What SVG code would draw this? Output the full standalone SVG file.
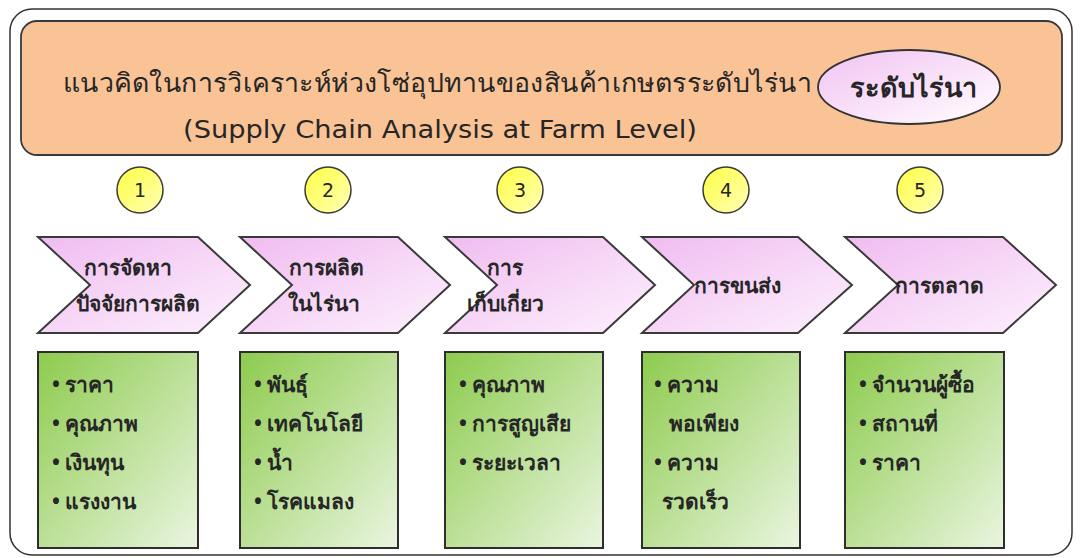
<svg xmlns="http://www.w3.org/2000/svg" width="1080" height="558" viewBox="0 0 1080 558">
<defs>
<linearGradient id="gChev" x1="0" y1="0" x2="1" y2="1">
<stop offset="0" stop-color="#F0BCF0"/>
<stop offset="1" stop-color="#FDF1FD"/>
</linearGradient>
<linearGradient id="gGreen" x1="0" y1="0" x2="1" y2="1">
<stop offset="0" stop-color="#8DCB4E"/>
<stop offset="1" stop-color="#EAF5E0"/>
</linearGradient>
<linearGradient id="gYel" x1="0" y1="0" x2="1" y2="1">
<stop offset="0" stop-color="#FFFF40"/>
<stop offset="1" stop-color="#FFFFB8"/>
</linearGradient>
<linearGradient id="gEll" x1="0" y1="0" x2="1" y2="1">
<stop offset="0" stop-color="#F2C2F2"/>
<stop offset="1" stop-color="#FFFFFF"/>
</linearGradient>
<style>
.th{font-family:"Noto Sans","DejaVu Sans",sans-serif;fill:#262626}
.chev{fill:url(#gChev);stroke:#3a3a3a;stroke-width:2}
.box{fill:url(#gGreen);stroke:#2e2e2e;stroke-width:2}
.num{fill:url(#gYel);stroke:#3a3a3a;stroke-width:1.5}
.lbl{font-size:21px;font-weight:bold;text-anchor:middle}
.item{font-size:21px;font-weight:bold}
.n{font-family:"DejaVu Sans",sans-serif;font-size:19px;fill:#262626;text-anchor:middle}
</style>
</defs>
<rect width="1080" height="558" fill="#FFFFFF"/>
<g id="frame">
<rect x="10" y="9" width="1062" height="546" rx="22" fill="none" stroke="#333" stroke-width="1.5"/>
</g>
<g id="header">
<rect x="21" y="21" width="1041" height="134" rx="16" fill="#F9C396" stroke="#3a3a3a" stroke-width="1.8"/>
<text class="th" x="63" y="92" font-size="26" textLength="749" lengthAdjust="spacingAndGlyphs">แนวคิดในการวิเคราะห์ห่วงโซ่อุปทานของสินค้าเกษตรระดับไร่นา</text>
<text x="183" y="138" font-family="DejaVu Sans, sans-serif" font-size="25" fill="#262626" textLength="514" lengthAdjust="spacingAndGlyphs">(Supply Chain Analysis at Farm Level)</text>
</g>
<g id="level">
<ellipse cx="909" cy="87" rx="91" ry="37" fill="url(#gEll)" stroke="#333" stroke-width="1.8"/>
<text class="th" x="913" y="97" font-size="27" font-weight="bold" text-anchor="middle">ระดับไร่นา</text>
</g>
<g id="step1">
<circle class="num" cx="140" cy="190" r="23"/>
<text class="n" x="140" y="197">1</text>
<path class="chev" d="M38,237 H198 L250,285 L198,333 H38 L90,285 Z"/>
<text class="th lbl" x="128" y="275">การจัดหา</text>
<text class="th lbl" x="138" y="311">ปัจจัยการผลิต</text>
<rect class="box" x="38" y="352" width="160" height="196"/>
<text class="th item" x="52" y="392">• ราคา</text>
<text class="th item" x="52" y="431">• คุณภาพ</text>
<text class="th item" x="52" y="470">• เงินทุน</text>
<text class="th item" x="52" y="509">• แรงงาน</text>
</g>
<g id="step2">
<circle class="num" cx="328" cy="190" r="23"/>
<text class="n" x="328" y="197">2</text>
<path class="chev" d="M240,237 H398 L450,285 L398,333 H240 L292,285 Z"/>
<text class="th lbl" x="326" y="275">การผลิต</text>
<text class="th lbl" x="324" y="311">ในไร่นา</text>
<rect class="box" x="240" y="352" width="158" height="196"/>
<text class="th item" x="254" y="392">• พันธุ์</text>
<text class="th item" x="254" y="431">• เทคโนโลยี</text>
<text class="th item" x="254" y="470">• น้ำ</text>
<text class="th item" x="254" y="509">• โรคแมลง</text>
</g>
<g id="step3">
<circle class="num" cx="520" cy="190" r="23"/>
<text class="n" x="520" y="197">3</text>
<path class="chev" d="M445,237 H603 L655,285 L603,333 H445 L497,285 Z"/>
<text class="th lbl" x="505" y="275">การ</text>
<text class="th lbl" x="505" y="311">เก็บเกี่ยว</text>
<rect class="box" x="445" y="352" width="158" height="196"/>
<text class="th item" x="459" y="392">• คุณภาพ</text>
<text class="th item" x="459" y="431">• การสูญเสีย</text>
<text class="th item" x="459" y="470">• ระยะเวลา</text>
</g>
<g id="step4">
<circle class="num" cx="726" cy="190" r="23"/>
<text class="n" x="726" y="197">4</text>
<path class="chev" d="M642,237 H798 L852,285 L798,333 H642 L694,285 Z"/>
<text class="th lbl" x="737" y="293">การขนส่ง</text>
<rect class="box" x="642" y="352" width="158" height="196"/>
<text class="th item" x="654" y="392">• ความ</text>
<text class="th item" x="669" y="431">พอเพียง</text>
<text class="th item" x="654" y="470">• ความ</text>
<text class="th item" x="662" y="509">รวดเร็ว</text>
</g>
<g id="step5">
<circle class="num" cx="920" cy="190" r="23"/>
<text class="n" x="920" y="197">5</text>
<path class="chev" d="M845,237 H1003 L1056,285 L1003,333 H845 L898,285 Z"/>
<text class="th lbl" x="939" y="293">การตลาด</text>
<rect class="box" x="845" y="352" width="159" height="196"/>
<text class="th item" x="859" y="392">• จำนวนผู้ซื้อ</text>
<text class="th item" x="859" y="431">• สถานที่</text>
<text class="th item" x="859" y="470">• ราคา</text>
</g>
<g id="connectors"></g>
</svg>
